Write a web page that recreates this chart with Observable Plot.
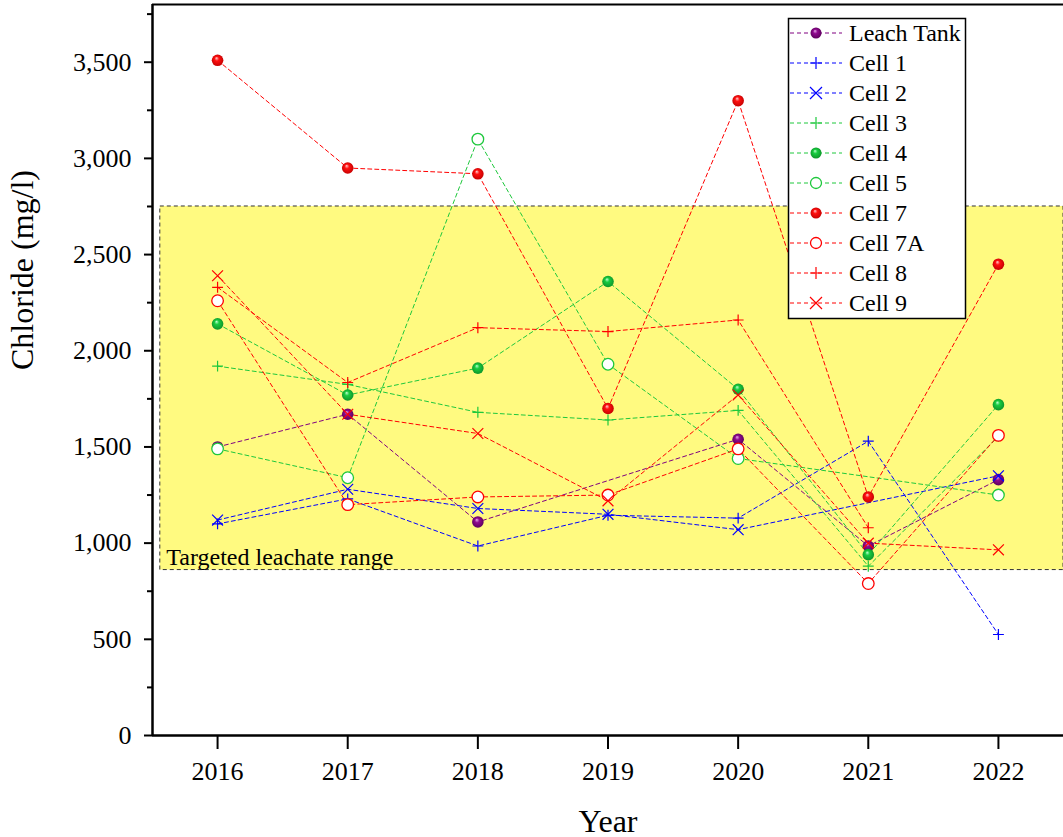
<!DOCTYPE html>
<html>
<head>
<meta charset="utf-8">
<script src="https://cdn.jsdelivr.net/npm/d3@7"></script>
<script src="https://cdn.jsdelivr.net/npm/@observablehq/plot@0.6"></script>
<style>
  html, body { margin: 0; padding: 0; background: #fff; }
  #chart { position: relative; width: 1063px; height: 837px; }
</style>
</head>
<body>
<svg width="0" height="0" style="position:absolute">
  <defs>
    <radialGradient id="gPurple" cx="0.5" cy="0.5" r="0.55" fx="0.4" fy="0.3">
      <stop offset="0" stop-color="#e8b0e8"/>
      <stop offset="0.35" stop-color="#900a90"/>
      <stop offset="1" stop-color="#580058"/>
    </radialGradient>
    <radialGradient id="gGreen" cx="0.5" cy="0.5" r="0.55" fx="0.4" fy="0.3">
      <stop offset="0" stop-color="#c0ffd0"/>
      <stop offset="0.35" stop-color="#18cc40"/>
      <stop offset="1" stop-color="#0c9028"/>
    </radialGradient>
    <radialGradient id="gRed" cx="0.5" cy="0.5" r="0.55" fx="0.4" fy="0.3">
      <stop offset="0" stop-color="#ffd0d0"/>
      <stop offset="0.35" stop-color="#ff1010"/>
      <stop offset="1" stop-color="#c00000"/>
    </radialGradient>
  </defs>
</svg>
<div id="chart"></div>
<script>
// ---- data ----
const years = [2016, 2017, 2018, 2019, 2020, 2021, 2022];
const seriesNames = ["Leach Tank", "Cell 1", "Cell 2", "Cell 3", "Cell 4", "Cell 5", "Cell 7", "Cell 7A", "Cell 8", "Cell 9"];
const leachTank = [1500, 1670, 1110, null, 1540, 985, 1330];
const cell1 = [1100, 1230, 985, 1145, 1130, 1530, 525];
const cell2 = [1120, 1280, 1180, 1150, 1070, null, 1350];
const cell3 = [1920, 1825, 1680, 1640, 1690, 880, 1555];
const cell4 = [2140, 1770, 1910, 2360, 1800, 940, 1720];
const cell5 = [1490, 1340, 3100, 1930, 1440, null, 1250];
const cell7 = [3510, 2950, 2920, 1700, 3300, 1240, 2450];
const cell7A = [2260, 1200, 1240, 1250, 1490, 790, 1560];
const cell8 = [2330, 1835, 2120, 2100, 2160, 1080, null];
const cell9 = [2390, 1670, 1570, 1220, 1770, 1000, 965];
const targetRange = [860, 2750];
const targetLabel = "Targeted leachate range";
const yTicks = [0, 500, 1000, 1500, 2000, 2500, 3000, 3500];

// ---- styles ----
const FONT = "'Liberation Serif', 'Times New Roman', serif";
const PURPLE = "#800080", BLUE = "#0000ff", GREEN = "#1ec83c", RED = "#ff0000";
const seriesValues = [leachTank, cell1, cell2, cell3, cell4, cell5, cell7, cell7A, cell8, cell9];
const seriesStyle = [
  {color: PURPLE, marker: "sphere", grad: "url(#gPurple)"},
  {color: BLUE, marker: "plus"},
  {color: BLUE, marker: "times"},
  {color: GREEN, marker: "plus"},
  {color: GREEN, marker: "sphere", grad: "url(#gGreen)"},
  {color: GREEN, marker: "open"},
  {color: RED, marker: "sphere", grad: "url(#gRed)"},
  {color: RED, marker: "open"},
  {color: RED, marker: "plus"},
  {color: RED, marker: "times"}
];

const tidy = [];
seriesNames.forEach((name, i) => {
  seriesValues[i].forEach((v, j) => { if (v != null) tidy.push({series: name, year: years[j], value: v}); });
});

function markerMark(data, st) {
  const base = {x: "year", y: "value"};
  if (st.marker === "sphere") return Plot.dot(data, {...base, r: 5.8, fill: st.grad, stroke: "none"});
  if (st.marker === "open") return Plot.dot(data, {...base, r: 5.8, fill: "white", stroke: st.color, strokeWidth: 1.3});
  if (st.marker === "plus") return Plot.dot(data, {...base, symbol: "plus", r: 3.6, stroke: st.color, strokeWidth: 1.2});
  return Plot.dot(data, {...base, symbol: "times", r: 5, stroke: st.color, strokeWidth: 1.2});
}

const marks = [
  Plot.rect([targetRange], {x1: 2015.56, x2: 2022.5, y1: d => d[0], y2: d => d[1],
    fill: "#fffa80", stroke: "#333", strokeWidth: 1, strokeDasharray: "4,3"}),
  Plot.text([targetLabel], {x: 2015.56, y: targetRange[0], dx: 6, dy: -5, textAnchor: "start", lineAnchor: "bottom", fontSize: 24})
];
seriesNames.forEach((name, i) => {
  const d = tidy.filter(r => r.series === name);
  marks.push(Plot.line(d, {x: "year", y: "value", stroke: seriesStyle[i].color, strokeWidth: 1, strokeDasharray: "4,3"}));
});
seriesNames.forEach((name, i) => {
  const d = tidy.filter(r => r.series === name);
  marks.push(markerMark(d, seriesStyle[i]));
});
marks.push(
  Plot.ruleY([3800], {stroke: "black", strokeWidth: 2}),
  Plot.axisY({ticks: yTicks, tickFormat: d3.format(","), tickSize: 8, tickPadding: 13, strokeWidth: 2, label: null, fontSize: 26}),
  Plot.axisY({ticks: d3.range(250, 3800, 500), tickSize: 5, strokeWidth: 2, text: null, label: null}),
  Plot.axisX({ticks: years, tickFormat: d => String(d), tickSize: 14, tickPadding: 12, strokeWidth: 2, label: null, fontSize: 26}),
  Plot.ruleX([2015.5], {stroke: "black", strokeWidth: 2.5}),
  Plot.ruleY([0], {stroke: "black", strokeWidth: 2.5}),
  Plot.text(["Chloride (mg/l)"], {frameAnchor: "left", rotate: -90, dx: -130, fontSize: 32}),
  Plot.text(["Year"], {frameAnchor: "bottom", dy: 96, fontSize: 32})
);

const chart = Plot.plot({
  width: 1063,
  height: 837,
  marginLeft: 152,
  marginRight: 0,
  marginTop: 4,
  marginBottom: 102,
  style: {fontFamily: FONT, fontSize: "22px", background: "white", color: "black"},
  x: {domain: [2015.5, 2022.5]},
  y: {domain: [0, 3800]},
  marks
});
document.getElementById("chart").appendChild(chart);

// ---- legend (drawn inside the plot area, top right) ----
const svg = d3.select(chart);
const lg = svg.append("g").attr("font-family", FONT).attr("font-size", 24).attr("text-anchor", "start");
lg.append("rect").attr("x", 788.5).attr("y", 18.5).attr("width", 177).attr("height", 300)
  .attr("fill", "white").attr("stroke", "black").attr("stroke-width", 1.5);
seriesNames.forEach((name, i) => {
  const st = seriesStyle[i];
  const yy = 33 + i * 30;
  lg.append("line").attr("x1", 790).attr("x2", 842).attr("y1", yy).attr("y2", yy)
    .attr("stroke", st.color).attr("stroke-width", 1).attr("stroke-dasharray", "4,3");
  const cx = 816;
  if (st.marker === "sphere") lg.append("circle").attr("cx", cx).attr("cy", yy).attr("r", 5.5).attr("fill", st.grad);
  else if (st.marker === "open") lg.append("circle").attr("cx", cx).attr("cy", yy).attr("r", 5.5).attr("fill", "white").attr("stroke", st.color).attr("stroke-width", 1.3);
  else if (st.marker === "plus") lg.append("path").attr("d", `M${cx-6},${yy}H${cx+6}M${cx},${yy-6}V${yy+6}`).attr("stroke", st.color).attr("stroke-width", 1.2);
  else lg.append("path").attr("d", `M${cx-6},${yy-6}L${cx+6},${yy+6}M${cx-6},${yy+6}L${cx+6},${yy-6}`).attr("stroke", st.color).attr("stroke-width", 1.2);
  lg.append("text").attr("x", 849).attr("y", yy).attr("dy", "0.35em").attr("fill", "black").attr("text-anchor", "start").text(name);
});
</script>
</body>
</html>
